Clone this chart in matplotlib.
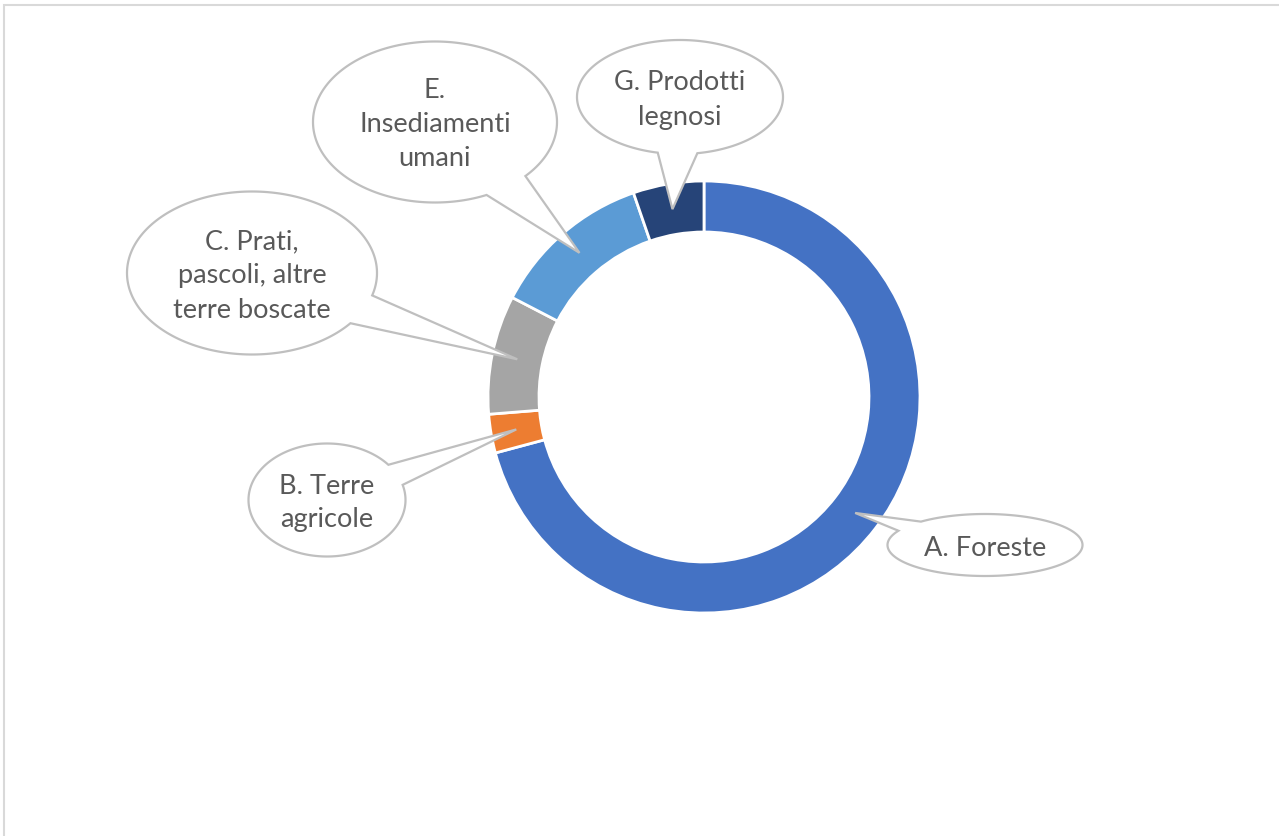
import numpy as np
import matplotlib
matplotlib.use("Agg")
import matplotlib.pyplot as plt
from matplotlib.patches import Polygon, Rectangle

W, H = 1279, 836

labels = ["A. Foreste", "B. Terre\nagricole", "C. Prati,\npascoli, altre\nterre boscate",
          "E.\nInsediamenti\numani", "G. Prodotti\nlegnosi"]
values = [70.9, 2.9, 8.9, 12.1, 5.3]
colors = ["#4472C4", "#ED7D31", "#A5A5A5", "#5B9BD5", "#264478"]

# callout layout, in pixels from the top left: ellipse centre, size, two base points of the pointer
bubble_center = [(985, 545), (327, 500), (252, 273), (435, 122), (680, 97)]
bubble_size = [(195, 62), (157, 113), (250, 163), (244, 161), (206, 114)]
bubble_base = [((922, 522), (900, 531)), ((388, 465), (402, 485)), ((370, 295), (350, 323)),
               ((527, 177), (488, 197)), ((658, 152), (697, 152))]

cx, cy = 704, 397
r_out, ring = 216, 51


def up(y):
    return H - y


def callout(ax, center, size, base, tip):
    ex, ey = center[0], up(center[1])
    a, b = size[0] / 2, size[1] / 2
    t = []
    for px, py in base:
        t.append(np.arctan2((up(py) - ey) / b, (px - ex) / a))
    t1, t2 = t
    # go the long way round from t1 to t2
    d = (t2 - t1) % (2 * np.pi)
    if d < np.pi:
        d = d - 2 * np.pi
    ts = t1 + np.linspace(0, d, 300)
    pts = [(ex + a * np.cos(s), ey + b * np.sin(s)) for s in ts]
    pts.append(tip)
    ax.add_patch(Polygon(pts, closed=True, facecolor="white", edgecolor="#BFBFBF",
                         linewidth=1.6, zorder=5))


fig = plt.figure(figsize=(W / 100, H / 100), dpi=100)
ax = fig.add_axes([0, 0, 1, 1])

wedges, _ = ax.pie(values, colors=colors, startangle=90, counterclock=False,
                   radius=r_out, center=(cx, up(cy)),
                   wedgeprops=dict(width=ring, edgecolor="white", linewidth=2))

r_mid = r_out - ring / 2
for i, w in enumerate(wedges):
    ang = np.deg2rad((w.theta1 + w.theta2) / 2)
    tip = (cx + r_mid * np.cos(ang), up(cy) + r_mid * np.sin(ang))
    callout(ax, bubble_center[i], bubble_size[i], bubble_base[i], tip)
    ax.text(bubble_center[i][0], up(bubble_center[i][1]) - 3, labels[i], ha="center", va="center",
            fontsize=19.5, color="#595959", family=["Lato", "DejaVu Sans"],
            linespacing=1.45, zorder=6)

# chart frame
ax.add_patch(Rectangle((4, -10), W + 20, up(5) + 10, facecolor="none",
                       edgecolor="#D9D9D9", linewidth=1.5, zorder=1))

ax.set_xlim(0, W)
ax.set_ylim(0, H)
ax.set_aspect("auto")
ax.axis("off")

fig.savefig("out.png", dpi=100)
